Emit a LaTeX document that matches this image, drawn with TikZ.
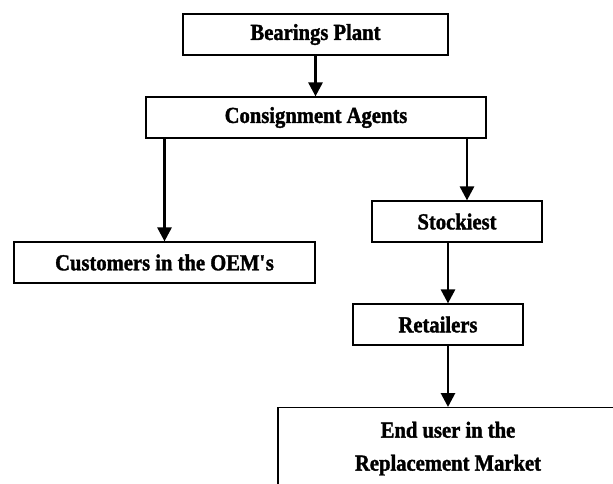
\documentclass[tikz,border=0pt]{standalone}
\usepackage{fontspec}
\setmainfont[FakeStretch=0.9,FakeBold=1.5]{Liberation Serif}
\usetikzlibrary{arrows.meta}

\begin{document}
\begin{tikzpicture}[x=1pt,y=-1pt,
  box/.style={draw, line width=1.2pt, minimum height=41pt, inner sep=0pt,
    font=\fontsize{22.9}{33}\selectfont\bfseries},
  flow/.style={-{Triangle[length=14pt,width=14pt]}, line width=2.8pt}]
\useasboundingbox (0,0) rectangle (613,484);

% Boxes
\node[box, minimum width=265pt] (plant) at (315.5,34.5) {Bearings Plant};
\node[box, minimum width=340pt] (agents) at (316,117.5) {Consignment Agents};
\node[box, minimum width=301pt] (oem) at (164.5,262.5) {Customers in the OEM\textquotesingle s};
\node[box, minimum width=170pt] (stock) at (457,221.5) {Stockiest};
\node[box, minimum width=170pt] (retail) at (438,324.5) {Retailers};
\node[box, minimum width=340pt, minimum height=82pt, align=center, anchor=north]
  (enduser) at (448,407) {End user in the\\Replacement Market};

% Flows
\coordinate (stockin) at ([xshift=10pt]stock.north);
\draw[flow] (plant.south) -- (plant.south |- agents.north);
\draw[flow] (agents.south -| oem.north) -- (oem.north);
\draw[flow] (agents.south -| stockin) -- (stockin);
\draw[flow] (stock.south -| enduser.north) -- (retail.north -| enduser.north);
\draw[flow] (retail.south -| enduser.north) -- (enduser.north);

\end{tikzpicture}
\end{document}
